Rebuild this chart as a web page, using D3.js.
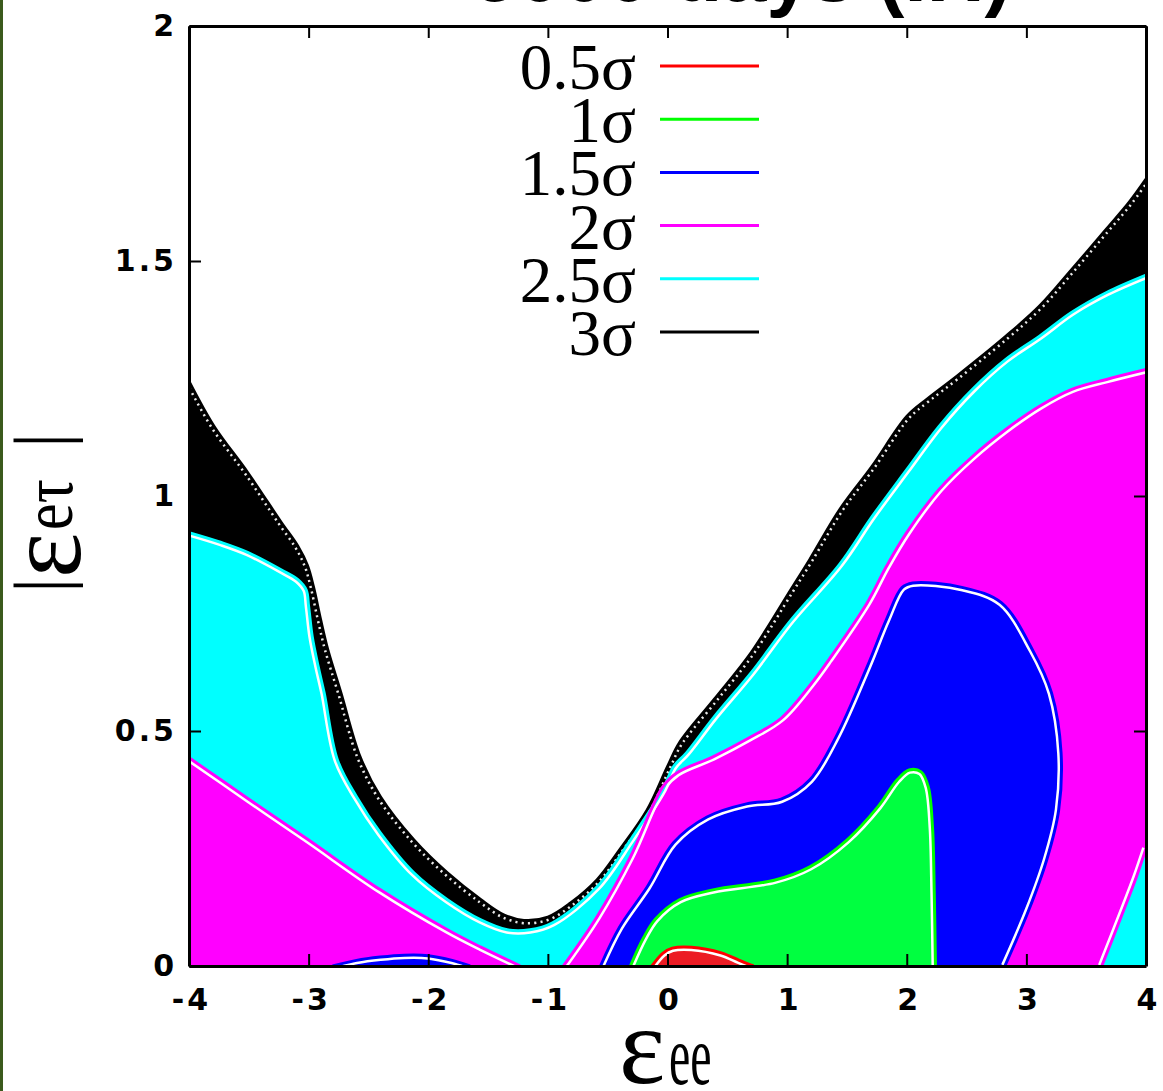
<!DOCTYPE html>
<html>
<head>
<meta charset="utf-8">
<script src="https://cdn.jsdelivr.net/npm/d3@7"></script>
<style>
  html, body { margin: 0; padding: 0; background: #fff; }
  svg { display: block; }
</style>
</head>
<body>
<svg id="chart" width="1163" height="1091"></svg>
<script>
// ---------------------------------------------------------
// DATA – contour lines (eps_ee, |eps_etau|)
// ---------------------------------------------------------
const levels     = ["0.5σ", "1σ", "1.5σ", "2σ", "2.5σ", "3σ"];
const lineColors = ["#ff0000", "#00ff00", "#0000ff", "#ff00ff", "#00ffff", "#000000"];
const fillColors = ["#ec1c24", "#00ff40", "#0000ff", "#ff00ff", "#00ffff", "#000000"];

const xTicks = [-4, -3, -2, -1, 0, 1, 2, 3, 4];
const yTicks = [0, 0.5, 1, 1.5, 2];
const yTickLabels = ["0", "0.5", "1", "1.5", "2"];

const sigma3 = [[-4,1.244],[-3.79,1.148],[-3.51,1.05],[-3.23,0.944],[-3.09,0.893],[-3.01,0.852],
  [-2.96,0.807],[-2.9,0.737],[-2.84,0.673],[-2.73,0.581],[-2.57,0.445],[-2.4,0.36],[-2.12,0.268],
  [-1.84,0.198],[-1.56,0.141],[-1.37,0.109],[-1.2,0.097],[-1.0,0.104],[-0.81,0.134],[-0.59,0.183],
  [-0.4,0.247],[-0.17,0.332],[0,0.424],[0.1,0.475],[0.39,0.567],[0.7,0.667],[1.03,0.8],[1.19,0.865],
  [1.44,0.971],[1.71,1.063],[2.0,1.169],[2.17,1.206],[2.42,1.255],[2.83,1.34],[3.11,1.404],
  [3.38,1.482],[3.67,1.568],[3.86,1.625],[4,1.674]];

const sigma25 = [[-4,0.922],[-3.73,0.901],[-3.51,0.88],[-3.23,0.843],[-3.09,0.822],[-3.02,0.8],
  [-3.0,0.765],[-2.97,0.701],[-2.92,0.637],[-2.87,0.581],[-2.76,0.439],[-2.6,0.36],[-2.4,0.283],
  [-2.12,0.198],[-1.84,0.141],[-1.56,0.098],[-1.34,0.077],[-1.15,0.077],[-0.96,0.092],[-0.59,0.168],
  [-0.31,0.268],[-0.04,0.375],[0.05,0.424],[0.16,0.454],[0.39,0.53],[0.7,0.624],[1.03,0.735],
  [1.44,0.855],[1.71,0.956],[2.0,1.056],[2.27,1.148],[2.55,1.227],[2.83,1.291],[3.11,1.34],
  [3.38,1.391],[3.67,1.433],[4,1.47]];

const sigma2Left = [[-4,0.443],[-3.5,0.355],[-3,0.268],[-2.4,0.162],[-1.84,0.077],[-1.56,0.04],[-1.23,0]];

const sigma2Right = [[-0.87,0],[-0.59,0.104],[-0.31,0.232],[-0.04,0.381],[0.08,0.411],[0.38,0.445],
  [0.68,0.485],[0.95,0.527],[1.2,0.6],[1.35,0.652],[1.67,0.773],[1.83,0.85],[2.0,0.922],[2.27,1.014],
  [2.55,1.084],[2.83,1.142],[3.11,1.191],[3.38,1.227],[3.67,1.248],[4,1.269]];

const sigma2Corner = [[3.63,0],[3.8,0.11],[3.92,0.19],[4,0.25]];

const sigma15 = [[-0.56,0],[-0.4,0.083],[-0.17,0.168],[0.05,0.262],[0.33,0.317],[0.66,0.345],
  [0.95,0.355],[1.19,0.396],[1.41,0.488],[1.67,0.637],[1.83,0.737],[1.96,0.805],[2.05,0.815],
  [2.47,0.805],[2.79,0.773],[3.05,0.673],[3.21,0.581],[3.29,0.453],[3.27,0.332],[3.17,0.226],
  [3.02,0.119],[2.82,0]];

const sigma15Arc = [[-2.8,0],[-2.6,0.012],[-2.4,0.019],[-2.2,0.023],[-2.0,0.022],[-1.8,0.012],[-1.65,0]];

const sigma1 = [[-0.31,0],[-0.2,0.06],[-0.1,0.1],[0.1,0.141],[0.38,0.162],[0.9,0.183],[1.19,0.211],
  [1.5,0.268],[1.76,0.339],[1.92,0.396],[2.02,0.417],[2.12,0.413],[2.18,0.381],[2.215,0.296],
  [2.23,0.155],[2.24,0]];

const sigma05 = [[-0.13,0],[-0.04,0.027],[0.04,0.038],[0.2,0.04],[0.45,0.028],[0.6,0.012],[0.72,0]];

// ---------------------------------------------------------
// SCALES
// ---------------------------------------------------------
const svg = d3.select("#chart");
const plotL = 189, plotR = 1146, plotT = 26, plotB = 966;

const x = d3.scaleLinear().domain([-4, 4]).range([plotL, plotR]);
const y = d3.scaleLinear().domain([0, 2]).range([plotB, plotT]);

const line = d3.line()
    .x(d => x(d[0]))
    .y(d => y(d[1]))
    .curve(d3.curveCatmullRom.alpha(0.5));

const pt = p => `L${x(p[0])},${y(p[1])}`;

// regions: level index, closed outline, contour pieces on its border
const regions = [
  { lv: 5, d: line(sigma3) + pt([4,0]) + pt([-4,0]) + "Z", lines: [sigma3] },
  { lv: 4, d: line(sigma25) + pt([4,0]) + pt([-4,0]) + "Z", lines: [sigma25] },
  { lv: 3, d: line(sigma2Left) + pt([-4,0]) + "Z", lines: [sigma2Left] },
  { lv: 3, d: line(sigma2Right) + "L" + line(sigma2Corner.slice().reverse()).slice(1) + "Z",
    lines: [sigma2Right, sigma2Corner] },
  { lv: 2, d: line(sigma15) + "Z", lines: [sigma15] },
  { lv: 2, d: line(sigma15Arc) + "Z", lines: [sigma15Arc] },
  { lv: 1, d: line(sigma1) + "Z", lines: [sigma1] },
  { lv: 0, d: line(sigma05) + "Z", lines: [sigma05] }
];

// left dark strip of the page
svg.append("rect").attr("x", 0).attr("y", 0).attr("width", 3).attr("height", 1091).attr("fill", "#3b5a1c");

const defs = svg.append("defs");
defs.append("clipPath").attr("id", "plotclip")
  .append("rect").attr("x", plotL).attr("y", plotT).attr("width", plotR - plotL).attr("height", plotB - plotT);

const plot = svg.append("g").attr("clip-path", "url(#plotclip)");

// fills
plot.selectAll("path.fill")
  .data(regions)
  .enter().append("path")
  .attr("class", "fill")
  .attr("d", r => r.d)
  .attr("fill", r => fillColors[r.lv]);

// white inner edge beside each contour (clipped to its own region)
regions.forEach((r, i) => {
  defs.append("clipPath").attr("id", "reg" + i).append("path").attr("d", r.d);
  const g = plot.append("g").attr("clip-path", `url(#reg${i})`);
  r.lines.forEach(l => {
    g.append("path")
      .attr("d", line(l))
      .attr("fill", "none")
      .attr("stroke", r.lv === 5 ? "#e8e8e8" : "#fff")
      .attr("stroke-width", 8)
      .attr("stroke-dasharray", r.lv === 5 ? "2,4" : null);
  });
});

// contour lines
regions.forEach(r => {
  r.lines.forEach(l => {
    plot.append("path")
      .attr("d", line(l))
      .attr("fill", "none")
      .attr("stroke", lineColors[r.lv])
      .attr("stroke-width", 3)
      .attr("stroke-linejoin", "round");
  });
});

// ---------------------------------------------------------
// AXES
// ---------------------------------------------------------
const tickFont = g => g.selectAll("text")
  .style("font-family", "'DejaVu Sans', sans-serif")
  .style("font-weight", "bold")
  .style("font-size", "30px")
  .style("letter-spacing", "3px")
  .attr("fill", "#000");

const styleAxis = g => {
  g.select(".domain").attr("stroke", "#000").attr("stroke-width", 3);
  g.selectAll(".tick line").attr("stroke", "#000").attr("stroke-width", 2);
};

svg.append("g")
  .attr("transform", `translate(0,${plotB})`)
  .call(d3.axisBottom(x).tickValues(xTicks).tickFormat(d => String(d))
    .tickSize(-12).tickSizeOuter(0).tickPadding(23))
  .call(styleAxis).call(tickFont)
  .selectAll("text").attr("dx", "2px");

svg.append("g")
  .attr("transform", `translate(0,${plotT})`)
  .call(d3.axisTop(x).tickValues(xTicks).tickFormat("")
    .tickSize(-12).tickSizeOuter(0))
  .call(styleAxis);

svg.append("g")
  .attr("transform", `translate(${plotL},0)`)
  .call(d3.axisLeft(y).tickValues(yTicks).tickFormat((d, i) => yTickLabels[i])
    .tickSize(-12).tickSizeOuter(0).tickPadding(12))
  .call(styleAxis).call(tickFont);

svg.append("g")
  .attr("transform", `translate(${plotR},0)`)
  .call(d3.axisRight(y).tickValues(yTicks).tickFormat("")
    .tickSize(-12).tickSizeOuter(0))
  .call(styleAxis);

// ---------------------------------------------------------
// TITLE (cut off at the top edge)
// ---------------------------------------------------------
svg.append("text")
  .attr("x", 473).attr("y", 1)
  .style("font-family", "'Liberation Sans', Arial, sans-serif")
  .style("font-weight", "bold")
  .style("font-size", "80px")
  .text("5000 days (IH)");

// ---------------------------------------------------------
// AXIS LABELS
// ---------------------------------------------------------
const serif = "'Liberation Serif', 'Times New Roman', serif";

svg.append("text").attr("x", 619).attr("y", 1083)
  .style("font-family", serif).style("font-size", "110px").text("ε");
svg.append("text").attr("transform", "translate(669,1084) scale(1,1.75)")
  .style("font-family", serif).style("font-size", "48px").text("ee");

const yl = svg.append("g");
yl.append("text").attr("transform", "translate(67,593) rotate(-90)")
  .style("font-family", serif).style("font-size", "76px").text("|");
yl.append("text").attr("transform", "translate(80,578) rotate(-90)")
  .style("font-family", serif).style("font-size", "108px").text("ε");
yl.append("text").attr("transform", "translate(72,530) rotate(-90) scale(1,1.2)")
  .style("font-family", serif).style("font-size", "60px").text("eτ");
yl.append("text").attr("transform", "translate(67,448) rotate(-90)")
  .style("font-family", serif).style("font-size", "76px").text("|");

// ---------------------------------------------------------
// LEGEND
// ---------------------------------------------------------
const legend = svg.append("g");
levels.forEach((lab, i) => {
  const ly = 66 + i * 53.2;
  legend.append("text")
    .attr("x", 636).attr("y", ly + 23)
    .attr("text-anchor", "end")
    .style("font-family", serif)
    .style("font-size", "65px")
    .text(lab);
  legend.append("line")
    .attr("x1", 660).attr("x2", 759)
    .attr("y1", ly).attr("y2", ly)
    .attr("stroke", lineColors[i])
    .attr("stroke-width", 3);
});
</script>
</body>
</html>
